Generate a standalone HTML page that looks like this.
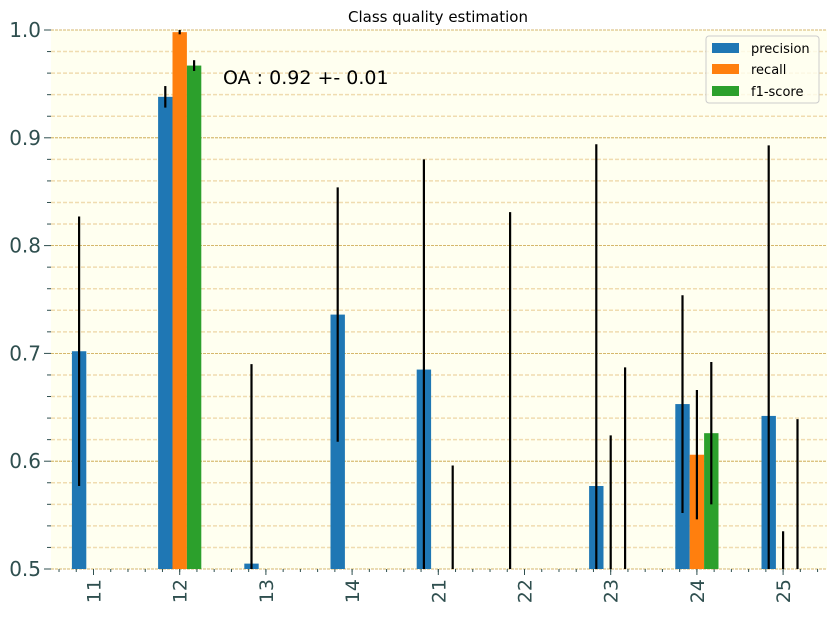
<!DOCTYPE html>
<html><head><meta charset="utf-8"><style>
body{margin:0;background:#fff;}
svg text{font-family:"DejaVu Sans","Liberation Sans",sans-serif;}
</style></head><body>
<svg id="chart" width="835" height="613" xmlns="http://www.w3.org/2000/svg">
<rect x="51" y="30" width="776" height="539" fill="#fffff0"/>
<g id="grid"></g><g id="bars"></g><g id="errs"></g><g id="axes"></g>
<text x="438" y="22" font-size="15" text-anchor="middle" fill="#000">Class quality estimation</text>
<text x="223" y="84" font-size="19" fill="#000">OA : 0.92 +- 0.01</text>
<g>
<rect x="706" y="36" width="113" height="67" rx="3" fill="#fffff0" fill-opacity="0.8" stroke="#ccc"/>
<rect x="712" y="43" width="27" height="10" fill="#1f77b4"/>
<text x="751" y="53" font-size="13">precision</text>
<rect x="712" y="64" width="27" height="10" fill="#ff7f0e"/>
<text x="751" y="74" font-size="13">recall</text>
<rect x="712" y="86" width="27" height="10" fill="#2ca02c"/>
<text x="751" y="96" font-size="13">f1-score</text>
</g>
</svg>
<script>
const categories=["11","12","13","14","21","22","23","24","25"];
const precision=[0.702,0.938,0.505,0.736,0.685,0.30,0.577,0.653,0.642];
const precisionErr=[0.125,0.010,0.185,0.118,0.195,0.531,0.317,0.101,0.251];
const recall=[0.20,0.998,0.10,0.10,0.10,0.10,0.35,0.606,0.30];
const recallErr=[0.0,0.002,0.0,0.0,0.0,0.0,0.274,0.060,0.235];
const f1=[0.20,0.967,0.10,0.10,0.35,0.10,0.40,0.626,0.35];
const f1Err=[0.0,0.005,0.0,0.0,0.246,0.0,0.287,0.066,0.289];
const yTicks=[0.5,0.6,0.7,0.8,0.9,1.0];
const NS="http://www.w3.org/2000/svg";
const yMin=0.5,yMax=1.0,plotTop=30,plotBot=569,plotLeft=51,plotRight=827;
function yS(v){return plotBot-(v-yMin)/(yMax-yMin)*(plotBot-plotTop);}
function xS(i){return 93.5+i*86.2;}
const bw=14.4;
function mk(tag,attrs,parent){const e=document.createElementNS(NS,tag);for(const k in attrs)e.setAttribute(k,attrs[k]);document.getElementById(parent).appendChild(e);return e;}
for(let k=0;k<=25;k++){
  const v=0.5+k*0.02;
  const major=(k%5===0);
  const g=mk('line',{x1:plotLeft,x2:plotRight,y1:yS(v),y2:yS(v),stroke:major?'#c8a040':'#f0dcb0','stroke-width':major?0.8:1.5,'stroke-dasharray':major?'3,1':'4,2'},'grid');
  
  
  const t=mk('line',{x1:plotLeft-(major?7:4),x2:plotLeft,y1:yS(v),y2:yS(v),stroke:'#2f4f4f','stroke-width':1},'axes');
  
  
}
yTicks.forEach(v=>{
  const t=mk('text',{x:plotLeft-10,y:yS(v)+7,'font-size':20,'text-anchor':'end',fill:'#2f4f4f'},'axes');
  t.textContent=v.toFixed(1);
  
  
});
for(let x=xS(0)-2*17.24;x<plotRight;x+=17.24){
  if(x<plotLeft)continue;
  const t=mk('line',{x1:x,x2:x,y1:plotBot,y2:plotBot+3,stroke:'#2f4f4f'},'axes');
  
  
}
const series=[[precision,precisionErr,'#1f77b4','precision'],[recall,recallErr,'#ff7f0e','recall'],[f1,f1Err,'#2ca02c','f1']];
categories.forEach((c,i)=>{
  const cx=xS(i);
  series.forEach((s,j)=>{
    const v=s[0][i],e=s[1][i];
    const bx=cx-1.5*bw+j*bw;
    if(v>yMin){
      const r=mk('rect',{x:bx,y:yS(v),width:bw,height:plotBot-yS(v),fill:s[2]},'bars');
      
      
    }
    if(e>0&&v+e>yMin){
      const lo=Math.max(v-e,yMin),hi=Math.min(v+e,yMax);
      const l=mk('line',{x1:bx+bw/2,x2:bx+bw/2,y1:yS(lo),y2:yS(hi),stroke:'#000','stroke-width':2.2},'errs');
      
      
    }
  });
  const tk=mk('line',{x1:cx,x2:cx,y1:plotBot,y2:plotBot+6,stroke:'#2f4f4f'},'axes');
  
  
  const t=mk('text',{x:0,y:0,'font-size':19,'text-anchor':'end',fill:'#2f4f4f',transform:`translate(${cx+7},${plotBot+10}) rotate(-90)`},'axes');
  t.textContent=c;
  
  
});
</script>
</body></html>
